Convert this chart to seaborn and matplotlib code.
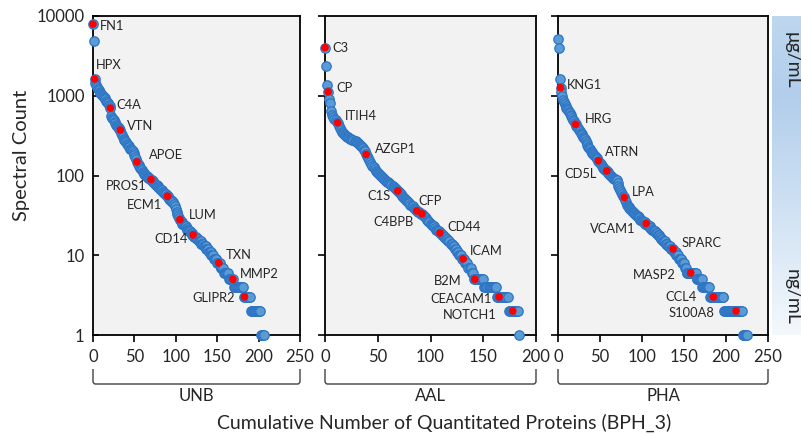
import numpy as np
import pandas as pd
import matplotlib
matplotlib.use("Agg")
import matplotlib.pyplot as plt
import seaborn as sns
from matplotlib.lines import Line2D
from matplotlib.path import Path
from matplotlib.patches import PathPatch
from matplotlib.colors import LinearSegmentedColormap
from matplotlib.transforms import blended_transform_factory

# ---------------- data (spectral counts, sorted) -------------
unb_counts = [7900, 4900, 1620, 1450, 1350, 1280, 1220, 1170, 1120, 1080, 1050, 1020, 990, 960,
              930, 900, 860, 830, 800, 770, 740, 700, 560, 530, 510, 490, 470, 450, 430, 415,
              400, 390, 380, 372, 340, 320, 300, 290, 280, 270, 260, 250, 240, 232, 225, 218,
              212, 206, 200, 190, 180, 170, 160, 148, 140, 135, 130, 125, 120, 116, 112, 108,
              105, 102, 100, 98, 96, 94, 92, 90, 89, 87, 85, 83, 81, 79, 77, 75, 73, 71, 69,
              67, 66, 65, 63, 62, 60, 59, 58, 56, 55, 53, 51, 50, 49, 48, 47, 46, 44, 42, 38,
              35, 33, 31, 29, 28, 27, 26, 25, 25, 24, 23, 23, 22, 21, 21, 20, 20, 19, 19, 18,
              18, 17, 17, 17, 16, 16, 16, 15, 15, 15, 14, 14, 14, 13, 13, 13, 12, 12, 12, 11,
              11, 11, 10, 10, 10, 9, 9, 9, 9, 8, 8, 8, 8, 7, 7, 7, 7, 6, 6, 6, 6, 6, 6, 5, 5,
              5, 5, 5, 5, 4, 4, 4, 4, 4, 4, 4, 4, 4, 4, 4, 4, 3, 3, 3, 3, 3, 3, 3, 3, 3, 2, 2,
              2, 2, 2, 2, 2, 2, 2, 2, 2, 2, 1, 1, 1, 1]
unb_labels = ["FN1", "HPX", "C4A", "VTN", "APOE", "PROS1", "ECM1", "LUM", "CD14", "TXN",
              "MMP2", "GLIPR2"]
unb_label_ranks = [0, 2, 21, 33, 53, 70, 90, 105, 121, 152, 169, 183]

aal_counts = [4000, 2360, 1365, 1120, 900, 800, 650, 575, 540, 510, 490, 470, 459, 420, 390,
              370, 355, 340, 330, 320, 312, 305, 300, 295, 290, 285, 280, 276, 272, 268, 262,
              256, 250, 244, 236, 228, 220, 210, 200, 184, 175, 165, 155, 148, 140, 132, 126,
              120, 115, 110, 107, 104, 101, 98, 95, 93, 90, 88, 86, 84, 82, 80, 78, 76, 74,
              72, 70, 68, 66, 64, 62, 60, 58, 56, 54, 52, 51, 49, 48, 46, 45, 43, 42, 41, 39,
              38, 37, 36, 35, 35, 34, 33, 33, 32, 31, 30, 29, 28, 27, 26, 25, 24, 23, 23, 22,
              21, 21, 20, 20, 19, 19, 18, 18, 17, 17, 16, 16, 15, 15, 14, 14, 13, 13, 12, 12,
              11, 11, 10, 10, 10, 9, 9, 9, 8, 8, 8, 7, 7, 7, 6, 6, 5, 5, 5, 5, 5, 5, 5, 5, 5,
              5, 4, 4, 4, 4, 4, 4, 4, 4, 4, 4, 4, 4, 3, 3, 3, 3, 3, 3, 3, 3, 3, 3, 3, 2, 2, 2,
              2, 2, 2, 2, 2, 2, 2, 1]
aal_labels = ["C3", "CP", "ITIH4", "AZGP1", "C1S", "C4BPB", "CFP", "CD44", "ICAM", "B2M",
              "CEACAM1", "NOTCH1"]
aal_label_ranks = [0, 3, 12, 39, 69, 87, 92, 109, 131, 142, 165, 178]

pha_counts = [5100, 3940, 1610, 1260, 1120, 980, 885, 830, 790, 750, 710, 680, 660, 630, 600,
              575, 550, 525, 500, 480, 460, 438, 420, 405, 390, 375, 360, 345, 330, 318, 305,
              295, 285, 270, 255, 240, 229, 220, 212, 205, 198, 192, 186, 181, 176, 170, 165,
              159, 153, 148, 143, 138, 133, 129, 125, 121, 118, 116, 114, 110, 107, 104, 101,
              98, 96, 94, 92, 91, 90, 89, 88, 80, 74, 70, 66, 62, 59, 56, 54, 53, 50, 46, 43,
              41, 40, 39, 38, 37, 36, 35, 34, 34, 33, 32, 31, 31, 30, 29, 28, 28, 27, 27, 26,
              26, 25, 25, 24, 24, 23, 23, 22, 22, 21, 21, 20, 20, 20, 19, 19, 18, 18, 17, 17,
              16, 16, 15, 15, 15, 14, 14, 14, 13, 13, 13, 12, 12, 12, 12, 11, 11, 11, 10, 10,
              10, 9, 9, 9, 9, 8, 8, 8, 7, 7, 6, 6, 6, 6, 6, 6, 6, 6, 6, 6, 6, 6, 5, 5, 5, 5, 5,
              5, 5, 4, 4, 4, 4, 4, 4, 4, 4, 4, 3, 3, 3, 3, 3, 3, 3, 3, 3, 3, 3, 3, 3, 3, 3, 3,
              3, 2, 2, 2, 2, 2, 2, 2, 2, 2, 2, 2, 2, 2, 2, 2, 2, 2, 2, 2, 2, 2, 2, 1, 1, 1, 1,
              1, 1]
pha_labels = ["KNG1", "HRG", "ATRN", "CD5L", "LPA", "VCAM1", "SPARC", "MASP2", "CCL4", "S100A8"]
pha_label_ranks = [3, 21, 48, 58, 79, 105, 137, 158, 185, 212]

panel_names = ["UNB", "AAL", "PHA"]
x_limits = [250, 200, 250]
y_ticks = [1, 10, 100, 1000, 10000]
y_tick_labels = ["1", "10", "100", "1000", "10000"]

# ---------------- label placement (pixels: dx, dy, alignment) ----------------
unb_offsets = [(7, -2, "left"), (1, 14, "left"), (6, 3, "left"), (7, 4, "left"),
               (12, 7, "left"), (-4, -6, "right"), (-5, -9, "right"), (9, 5, "left"),
               (-5, -4, "right"), (7, 8, "left"), (7, 5, "left"), (-10, -1, "right")]
aal_offsets = [(7, 0, "left"), (8, 4, "left"), (7, 7, "left"), (9, 5, "left"),
               (-7, -5, "right"), (-3, -11, "right"), (-4, 13, "left"), (7, 6, "left"),
               (7, 8, "left"), (-13, -2, "right"), (-7, -2, "right"), (-16, -4, "right")]
pha_offsets = [(6, 3, "left"), (9, 5, "left"), (7, 9, "left"), (-10, -3, "right"),
               (8, 5, "left"), (-11, -5, "right"), (8, 6, "left"), (-15, -2, "right"),
               (-17, 0, "right"), (-22, -2, "right")]

sns.set_theme(style="white")
plt.rcParams["font.family"] = ["Lato", "DejaVu Sans"]
TXT = "#262626"

W, H = 801, 434
fig = plt.figure(figsize=(W / 100, H / 100), dpi=100)


def rect(l, t, r, b):
    return [l / W, 1 - b / H, (r - l) / W, (b - t) / H]


boxes = [(93, 16, 300, 335), (325, 16, 536, 335), (558, 16, 768, 335)]
panels = [(unb_counts, unb_labels, unb_label_ranks, unb_offsets),
          (aal_counts, aal_labels, aal_label_ranks, aal_offsets),
          (pha_counts, pha_labels, pha_label_ranks, pha_offsets)]

blue_fill = "#5b9bd5"
blue_edge = "#2e75c4"

for i, (box, (counts, labels, ranks, offsets)) in enumerate(zip(boxes, panels)):
    ax = fig.add_axes(rect(*box))
    ax.set_facecolor("#f2f2f2")
    df = pd.DataFrame({"rank": np.arange(len(counts)), "count": counts})
    sns.scatterplot(data=df, x="rank", y="count", ax=ax, color=blue_fill,
                    edgecolor=blue_edge, linewidth=0.9, s=46, clip_on=False, zorder=3,
                    legend=False)
    red = df.iloc[ranks]
    sns.scatterplot(data=red, x="rank", y="count", ax=ax, color="#ff0000",
                    edgecolor="none", linewidth=0, s=30, clip_on=False, zorder=4,
                    legend=False)
    for name, r, (dx, dy, ha) in zip(labels, ranks, offsets):
        ax.annotate(name, xy=(r, counts[r]), xytext=(dx, dy), textcoords="offset pixels",
                    ha=ha, va="center", fontsize=9.3, color=TXT, zorder=5)
    ax.set_yscale("log")
    ax.set_ylim(1, 10000)
    ax.set_xlim(0, x_limits[i])
    ax.set_xticks(np.arange(0, x_limits[i] + 1, 50))
    ax.set_yticks(y_ticks)
    ax.yaxis.set_minor_locator(matplotlib.ticker.NullLocator())
    ax.set_xlabel("")
    ax.set_ylabel("")
    for sp in ax.spines.values():
        sp.set_color("black")
        sp.set_linewidth(1.3)
    ax.tick_params(axis="x", direction="out", length=5, width=1.2, color="black",
                   labelsize=12, labelcolor=TXT, pad=5, bottom=True)
    if i == 0:
        ax.set_yticklabels(y_tick_labels)
        ax.tick_params(axis="y", direction="in", length=4, width=1.2, color="black",
                       labelsize=12, labelcolor=TXT, pad=6, left=True)
    else:
        ax.set_yticklabels([])
        ax.tick_params(axis="y", direction="out", length=5, width=1.2, color="black",
                       left=True)
    # bracket under panel (rounded corners)
    tr = blended_transform_factory(ax.transAxes, fig.transFigure)
    y0, y1 = 1 - 369 / H, 1 - 384 / H
    rx, ry = 0.012, 3 / H
    verts = [(0.0, y0), (0.0, y1 + ry), (0.0, y1), (rx, y1), (1 - rx, y1), (1.0, y1),
             (1.0, y1 + ry), (1.0, y0)]
    codes = [Path.MOVETO, Path.LINETO, Path.CURVE3, Path.CURVE3, Path.LINETO, Path.CURVE3,
             Path.CURVE3, Path.LINETO]
    fig.add_artist(PathPatch(Path(verts, codes), transform=tr, fill=False,
                             edgecolor="#404040", lw=1.0))
    fig.text((box[0] + box[2]) / 2 / W, 1 - 396 / H, panel_names[i], ha="center",
             va="center", fontsize=12, color=TXT)

# gradient bar on the right
cmap = LinearSegmentedColormap.from_list(
    "conc", [(0.0, "#f4f8fc"), (0.35, "#d3e4f4"), (0.75, "#b2ceeb"), (1.0, "#bed7ef")])
axg = fig.add_axes(rect(772, 16, 801, 335))
axg.imshow(np.linspace(0, 1, 256)[:, None], aspect="auto", cmap=cmap, origin="lower",
           extent=[0, 1, 0, 1])
axg.set_axis_off()
axg.text(0.68, 0.86, "μg/mL", rotation=270, ha="center", va="center", fontsize=14,
         color=TXT, transform=axg.transAxes)
axg.text(0.68, 0.12, "ng/mL", rotation=270, ha="center", va="center", fontsize=14,
         color=TXT, transform=axg.transAxes)

fig.text(22 / W, 1 - 155 / H, "Spectral Count", rotation=90, ha="center", va="center",
         fontsize=14.5, color=TXT)
fig.text(444 / W, 1 - 423 / H, "Cumulative Number of Quantitated Proteins (BPH_3)",
         ha="center", va="center", fontsize=14, color=TXT)

fig.savefig("out.png", dpi=100)
